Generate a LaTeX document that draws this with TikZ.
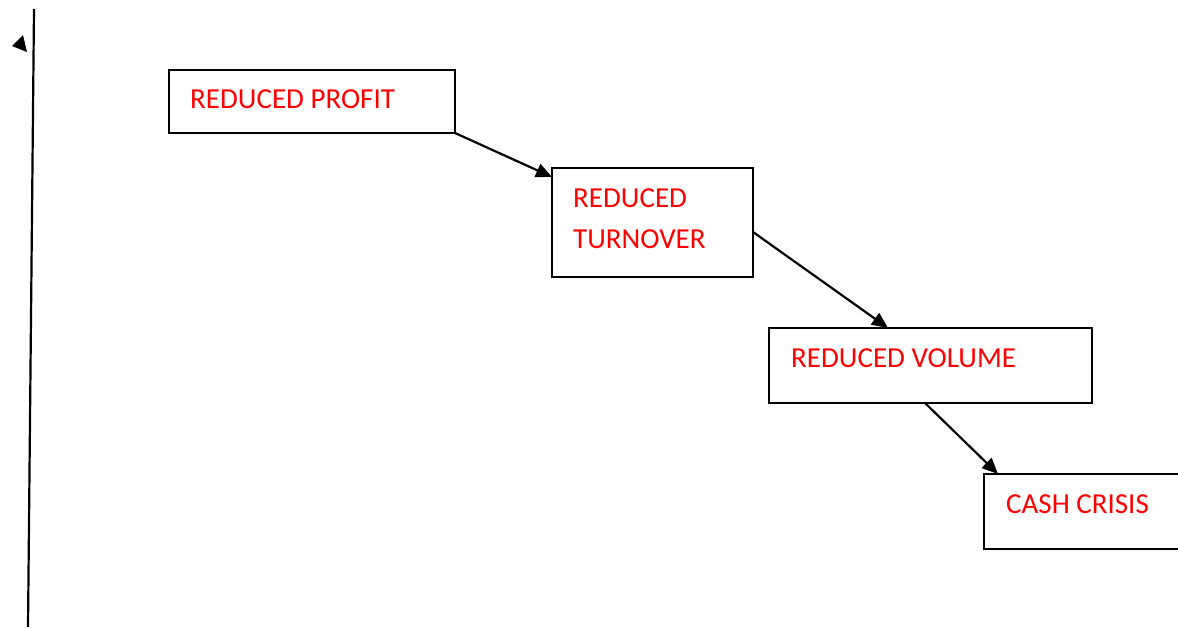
\documentclass[tikz,border=0pt]{standalone}
\usepackage{fontspec}
\setmainfont{Carlito}
\usetikzlibrary{arrows.meta,calc}
\begin{document}
\begin{tikzpicture}[x=1pt,y=-1pt,
  box/.style={draw=black,line width=2.2pt,anchor=north west,inner sep=0pt,outer sep=0pt},
  lbl/.style={text=red,font=\fontsize{29}{41}\selectfont,anchor=base west,inner sep=0pt},
  conn/.style={line width=2.2pt,-{Triangle[length=16pt,width=14pt]}}]
\useasboundingbox (0,0) rectangle (1178,627);
% axis line
\coordinate (axtop) at (34,9);
\coordinate (axbot) at (28,627);
\draw[line width=2.2pt] (axtop) -- (axbot);
\fill (12,46) -- (23,35) -- (27,52) -- cycle;
% boxes
\node[box,minimum width=286pt,minimum height=63pt] (b1) at (169,70) {};
\node[box,minimum width=201pt,minimum height=109pt] (b2) at (552,168) {};
\node[box,minimum width=323pt,minimum height=75pt] (b3) at (769,328) {};
\node[box,minimum width=210pt,minimum height=75pt] (b4) at (984,474) {};
% labels
\node[lbl] (t1) at ($(b1.north west)+(21,38)$) {REDUCED PROFIT};
\node[lbl] (t2a) at ($(b2.north west)+(21,39)$) {REDUCED};
\node[lbl] (t2b) at ($(b2.north west)+(21,80)$) {TURNOVER};
\node[lbl] (t3) at ($(b3.north west)+(22,39)$) {REDUCED VOLUME};
\node[lbl] (t4) at ($(b4.north west)+(22,39)$) {CASH CRISIS};
% connector points
\coordinate (e2in) at ($(b2.north west)+(0,9)$);
\coordinate (e2out) at ($(b2.north east)+(0,64)$);
\coordinate (e3in) at ($(b3.north west)+(119,0)$);
\coordinate (e3out) at ($(b3.south west)+(156,0)$);
\coordinate (e4in) at ($(b4.north west)+(14,0)$);
% connectors
\draw[conn] (b1.south east) -- (e2in);
\draw[conn] (e2out) -- (e3in);
\draw[conn] (e3out) -- (e4in);
\end{tikzpicture}
\end{document}
